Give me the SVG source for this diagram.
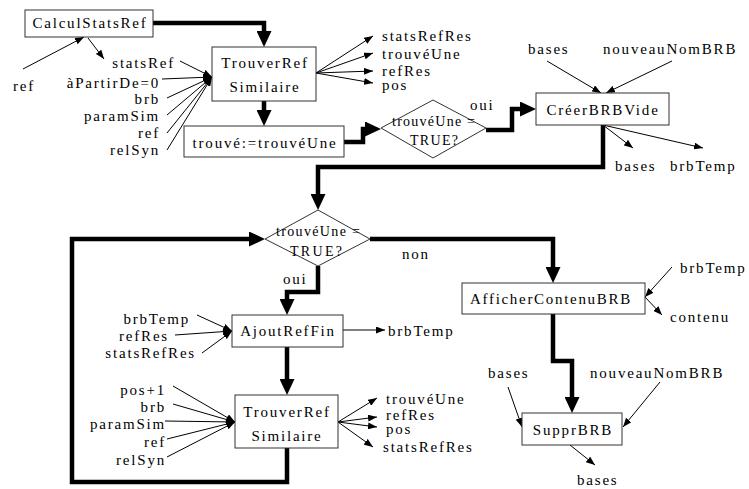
<svg xmlns="http://www.w3.org/2000/svg" width="749" height="489" viewBox="0 0 749 489" font-family="'Liberation Serif', 'Times New Roman', Times, serif">
<style>
text{font-family:'Liberation Serif','Times New Roman',Times,serif;font-size:15px;letter-spacing:1.8px;fill:#000}
.c{text-anchor:middle}
.e{text-anchor:end}
.d{font-size:14px;letter-spacing:0}
.box{fill:#fff;stroke:#333;stroke-width:1}
.thin{fill:none;stroke:#000;stroke-width:1;marker-end:url(#ah)}
.thick{fill:none;stroke:#000;stroke-width:4.5;stroke-linejoin:miter;stroke-linecap:butt;marker-end:url(#AH)}
</style>
<defs>
<marker id="ah" viewBox="0 0 9 7" refX="9" refY="3.5" markerWidth="9" markerHeight="7" markerUnits="userSpaceOnUse" orient="auto"><path d="M0,0 L9,3.5 L0,7 z" fill="#000"/></marker>
<marker id="AH" viewBox="0 0 16 15" refX="1" refY="7.5" markerWidth="16" markerHeight="15" markerUnits="userSpaceOnUse" orient="auto"><path d="M0,0 L16,7.5 L0,15 z" fill="#000"/></marker>
</defs>
<g id="connectors">
<path class="thick" d="M153,23 H264 V32"/>
<path class="thick" d="M264,101 V111"/>
<path class="thick" d="M344,142 H363 V129 H366"/>
<path class="thick" d="M486,130 H512 V109 H521"/>
<path class="thick" d="M603,125 V167 H318 V195"/>
<path class="thick" d="M287,448 V482 H72 V239 H250"/>
<path class="thick" d="M370,239 H553 V268"/>
<path class="thick" d="M318,266 V292 H287 V300"/>
<path class="thick" d="M287,347 V380"/>
<path class="thick" d="M553,314 V361 H572 V398"/>
<path class="thin" d="M23,69 L84,37"/>
<path class="thin" d="M88,38 L104,59"/>
<path class="thin" d="M180,61 L212,77"/>
<path class="thin" d="M162,79 L212,77"/>
<path class="thin" d="M167,98 L212,77"/>
<path class="thin" d="M167,115 L212,77"/>
<path class="thin" d="M167,133 L212,77"/>
<path class="thin" d="M167,150 L212,77"/>
<path class="thin" d="M316,73 L373,36"/>
<path class="thin" d="M316,73 L373,53"/>
<path class="thin" d="M316,73 L373,71"/>
<path class="thin" d="M316,73 L373,83"/>
<path class="thin" d="M547,61 L601,93"/>
<path class="thin" d="M672,61 L606,93"/>
<path class="thin" d="M603,125 L633,148"/>
<path class="thin" d="M603,125 L703,148"/>
<path class="thin" d="M197,315 L232,331"/>
<path class="thin" d="M175,335 L232,331"/>
<path class="thin" d="M202,353 L232,331"/>
<path class="thin" d="M343,330 L385,330"/>
<path class="thin" d="M173,386 L235,422"/>
<path class="thin" d="M173,404 L235,422"/>
<path class="thin" d="M165,421 L235,422"/>
<path class="thin" d="M167,439 L235,422"/>
<path class="thin" d="M167,457 L235,422"/>
<path class="thin" d="M338,422 L377,398"/>
<path class="thin" d="M338,422 L377,417"/>
<path class="thin" d="M338,422 L377,427"/>
<path class="thin" d="M338,422 L373,447"/>
<path class="thin" d="M672,267 L645,297"/>
<path class="thin" d="M645,297 L662,315"/>
<path class="thin" d="M508,387 L522,427"/>
<path class="thin" d="M660,382 L623,427"/>
<path class="thin" d="M570,445 L595,465"/>
</g>
<g id="labels">
<text x="13" y="91">ref</text>
<text class="e" x="175" y="68">statsRef</text>
<text class="e" x="160" y="88">àPartirDe=0</text>
<text class="e" x="160" y="104">brb</text>
<text class="e" x="160" y="121">paramSim</text>
<text class="e" x="160" y="138">ref</text>
<text class="e" x="160" y="155">relSyn</text>
<text x="382" y="41">statsRefRes</text>
<text x="382" y="59">trouvéUne</text>
<text x="382" y="76">refRes</text>
<text x="382" y="90">pos</text>
<text x="470" y="110">oui</text>
<text x="528" y="54">bases</text>
<text x="603" y="54">nouveauNomBRB</text>
<text x="615" y="171">bases</text>
<text x="670" y="171">brbTemp</text>
<text x="402" y="259">non</text>
<text x="283" y="284">oui</text>
<text class="e" x="190" y="324">brbTemp</text>
<text class="e" x="169" y="341">refRes</text>
<text class="e" x="196" y="358">statsRefRes</text>
<text x="388" y="336">brbTemp</text>
<text class="e" x="166" y="395">pos+1</text>
<text class="e" x="166" y="412">brb</text>
<text class="e" x="166" y="429">paramSim</text>
<text class="e" x="166" y="447">ref</text>
<text class="e" x="166" y="465">relSyn</text>
<text x="386" y="404">trouvéUne</text>
<text x="386" y="420">refRes</text>
<text x="386" y="434">pos</text>
<text x="383" y="452">statsRefRes</text>
<text x="680" y="273">brbTemp</text>
<text x="670" y="322">contenu</text>
<text x="488" y="378">bases</text>
<text x="590" y="378">nouveauNomBRB</text>
<text x="577" y="485">bases</text>
</g>
<g id="n-calcul"><rect class="box" x="25" y="10" width="128" height="27"/><text class="c" x="90" y="28">CalculStatsRef</text></g>
<g id="n-trouver1"><rect class="box" x="212" y="47" width="104" height="54"/><text class="c" x="265" y="68">TrouverRef</text><text class="c" x="265" y="92">Similaire</text></g>
<g id="n-assign"><rect class="box" x="184" y="126" width="160" height="31"/><text class="c" x="265" y="148">trouvé:=trouvéUne</text></g>
<g id="n-cond1"><polygon class="box" points="381,128 433,100 486,128 433,158"/><text class="d" x="392" y="126" textLength="83" lengthAdjust="spacing">trouvéUne =</text><text class="d" x="410" y="145" textLength="48" lengthAdjust="spacing">TRUE?</text></g>
<g id="n-creer"><rect class="box" x="536" y="93" width="133" height="32"/><text class="c" x="603" y="115">CréerBRBVide</text></g>
<g id="n-cond2"><polygon class="box" points="265,239 318,210 370,239 318,266"/><text class="d" x="276" y="236" textLength="84" lengthAdjust="spacing">trouvéUne =</text><text class="d" x="290" y="256" textLength="52" lengthAdjust="spacing">TRUE?</text></g>
<g id="n-ajout"><rect class="box" x="232" y="315" width="111" height="32"/><text class="c" x="288" y="336">AjoutRefFin</text></g>
<g id="n-trouver2"><rect class="box" x="235" y="395" width="103" height="53"/><text class="c" x="287" y="417">TrouverRef</text><text class="c" x="287" y="441">Similaire</text></g>
<g id="n-afficher"><rect class="box" x="462" y="283" width="183" height="31"/><text x="470" y="304" textLength="162" lengthAdjust="spacing">AfficherContenuBRB</text></g>
<g id="n-suppr"><rect class="box" x="522" y="413" width="100" height="32"/><text class="c" x="573" y="435">SupprBRB</text></g>
</svg>
